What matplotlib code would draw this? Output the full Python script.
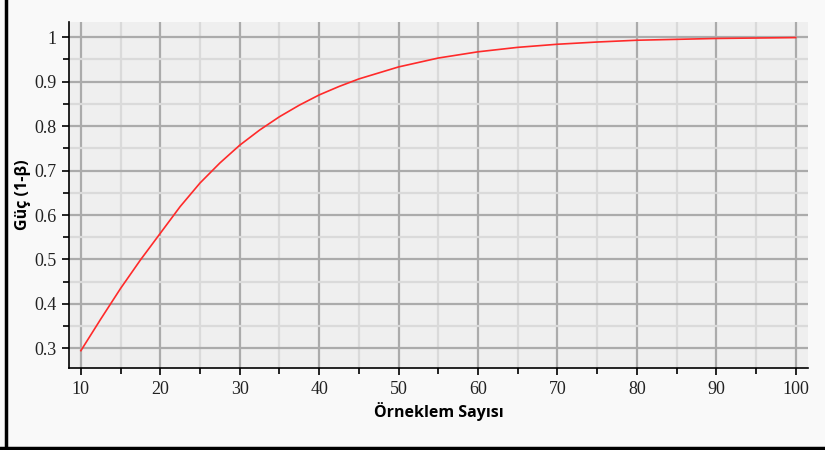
import numpy as np
import matplotlib.pyplot as plt
from matplotlib.lines import Line2D
from matplotlib.ticker import MultipleLocator

# values
sample_size = [10, 12.5, 15, 17.5, 20, 22.5, 25, 27.5, 30, 32.5, 35, 37.5, 40, 42.5, 45,
               50, 55, 60, 65, 70, 75, 80, 85, 90, 95, 100]
power = [0.295, 0.366, 0.435, 0.499, 0.559, 0.619, 0.672, 0.717, 0.757, 0.791,
         0.821, 0.847, 0.870, 0.889, 0.906, 0.933, 0.953, 0.967, 0.977, 0.984,
         0.989, 0.993, 0.995, 0.997, 0.998, 0.999]
x_ticks = [10, 20, 30, 40, 50, 60, 70, 80, 90, 100]
y_ticks = [0.3, 0.4, 0.5, 0.6, 0.7, 0.8, 0.9, 1.0]
y_tick_labels = ['0.3', '0.4', '0.5', '0.6', '0.7', '0.8', '0.9', '1']

fig = plt.figure(figsize=(8.25, 4.5), dpi=100, facecolor='#f9f9f9')
ax = fig.add_axes([0.0836, 0.1822, 0.8958, 0.7689])
ax.set_facecolor('#efefef')

ax.plot(sample_size, power, color='#ff2a2a', lw=1.2, zorder=3)

ax.set_xlim(8.5, 101.55)
ax.set_ylim(0.256, 1.034)
ax.set_xticks(x_ticks)
ax.set_yticks(y_ticks)
ax.set_yticklabels(y_tick_labels)
ax.xaxis.set_minor_locator(MultipleLocator(5))
ax.yaxis.set_minor_locator(MultipleLocator(0.05))

ax.grid(which='major', color='#ababab', lw=1.6)
ax.grid(which='minor', color='#dadada', lw=1.6)
ax.set_axisbelow(True)

for s in ['top', 'right']:
    ax.spines[s].set_visible(False)
ax.spines['left'].set_linewidth(1.2)
ax.spines['bottom'].set_linewidth(1.2)
ax.tick_params(which='major', length=5, width=1.2, direction='out', pad=4)
ax.tick_params(which='minor', length=4, width=1.2, direction='out')
for lab in ax.get_xticklabels() + ax.get_yticklabels():
    lab.set_fontfamily('Liberation Serif')
    lab.set_fontsize(13)
    lab.set_color('#222222')

ax.set_xlabel('Örneklem Sayısı', fontfamily='Open Sans', fontweight='bold', fontsize=11.5, labelpad=3)
ax.set_ylabel('Güç (1-β)', fontfamily='Open Sans', fontweight='bold', fontsize=11.5, labelpad=2)

# frame lines around the picture
fig.add_artist(Line2D([0.0073, 0.0073], [0.0, 1.0], color='black', lw=2.5, transform=fig.transFigure))
fig.add_artist(Line2D([0.0, 1.0], [0.0045, 0.0045], color='black', lw=2.5, transform=fig.transFigure))

fig.savefig('out.png', dpi=100, facecolor=fig.get_facecolor())
